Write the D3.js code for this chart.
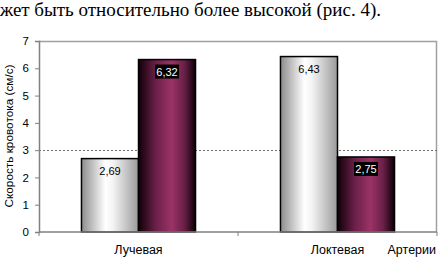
<!DOCTYPE html>
<html>
<head>
<meta charset="utf-8">
<script src="https://cdn.jsdelivr.net/npm/d3@7"></script>
<style>
  body { margin: 0; background: #fff; }
  svg { display: block; }
  .axis text { font-family: "Liberation Sans", Arial, sans-serif; font-size: 11.5px; fill: #000; }
  .axis path, .axis line { stroke: #808080; }
  .head { font-family: "Liberation Serif", "Times New Roman", serif; font-size: 19px; }
</style>
</head>
<body>
<div class="chart"></div>
<script>
var categories = ["Лучевая", "Локтевая"],
    series = ["s1", "s2"],
    values = [[2.69, 6.32], [6.43, 2.75]],
    labels = [["2,69", "6,32"], ["6,43", "2,75"]],
    yTicks = [0, 1, 2, 3, 4, 5, 6, 7],
    refLine = 3.02;

var outerWidth = 439, outerHeight = 257,
    margin = {left: 39, top: 41, right: 2, bottom: 24},
    width = outerWidth - margin.left - margin.right,
    height = outerHeight - margin.top - margin.bottom;

var svg = d3.select(".chart").append("svg")
    .attr("width", outerWidth)
    .attr("height", outerHeight);

svg.append("text")
    .attr("class", "head")
    .attr("x", 0).attr("y", 16)
    .text("жет быть относительно более высокой (рис. 4).");

var defs = svg.append("defs");
var g1 = defs.append("linearGradient").attr("id", "grayGrad");
[[0, "#8c8c8c"], [0.42, "#ffffff"], [0.55, "#f4f4f4"], [1, "#9a9a9a"]].forEach(function(s) {
  g1.append("stop").attr("offset", s[0]).attr("stop-color", s[1]);
});
var g2 = defs.append("linearGradient").attr("id", "purpleGrad");
[[0, "#100008"], [0.3, "#6a2048"], [0.58, "#9b3366"], [0.8, "#6a2048"], [1, "#0c0006"]].forEach(function(s) {
  g2.append("stop").attr("offset", s[0]).attr("stop-color", s[1]);
});
var fills = ["url(#grayGrad)", "url(#purpleGrad)"];

var g = svg.append("g").attr("transform", "translate(" + margin.left + "," + margin.top + ")");

var x0 = d3.scaleBand().domain(categories).range([0, width]);
var x1 = d3.scaleBand().domain(series).range([0, x0.bandwidth()]).paddingOuter(0.745);
var y = d3.scaleLinear().domain([0, 7]).range([height - 1, 0]);

// plot frame (top and right)
g.append("path")
    .attr("d", "M0,0.5H" + (width - 0.5) + "V" + (height - 1))
    .attr("fill", "none").attr("stroke", "#a0a0a0").attr("stroke-width", 1.5);

// reference line
g.append("line")
    .attr("x1", 0).attr("x2", width)
    .attr("y1", Math.round(y(refLine)) + 0.5).attr("y2", Math.round(y(refLine)) + 0.5)
    .attr("stroke", "#707070").attr("stroke-dasharray", "2,2");

var grp = g.selectAll(".grp").data(categories).enter().append("g")
    .attr("transform", function(d) { return "translate(" + x0(d) + ",0)"; });

function rows(d, i) { return values[i].map(function(v, j) { return {v: v, j: j, lab: labels[i][j]}; }); }

grp.selectAll("rect").data(rows)
  .enter().append("rect")
    .attr("x", function(d) { return x1(series[d.j]); })
    .attr("y", function(d) { return y(d.v); })
    .attr("width", x1.bandwidth())
    .attr("height", function(d) { return y(0) - y(d.v); })
    .attr("fill", function(d) { return fills[d.j]; })
    .attr("stroke", "#000").attr("stroke-width", 1.5);

var lab = grp.selectAll(".lab").data(rows)
  .enter().append("g").attr("class", "lab")
    .attr("transform", function(d) { return "translate(" + (x1(series[d.j]) + x1.bandwidth() / 2) + "," + (y(d.v) + 14) + ")"; });
lab.filter(function(d) { return d.j === 1; }).append("rect")
    .attr("x", -12).attr("y", -9).attr("width", 24).attr("height", 14)
    .attr("fill", "#000");
lab.append("text")
    .attr("text-anchor", "middle")
    .attr("y", 2)
    .style("font-family", "'Liberation Sans', Arial, sans-serif")
    .style("font-size", "11px")
    .attr("fill", function(d) { return d.j === 1 ? "#fff" : "#000"; })
    .text(function(d) { return d.lab; });

// axes
g.append("g").attr("class", "axis")
    .call(d3.axisLeft(y).tickValues(yTicks).tickFormat(d3.format("d")).tickSize(4).tickPadding(6))
    .call(function(a) { a.select(".domain").attr("stroke-width", 1.5); });

var xa = g.append("g").attr("class", "axis")
    .attr("transform", "translate(0," + (height - 1) + ")");
xa.append("line").attr("x1", 0).attr("x2", width).attr("stroke", "#808080").attr("stroke-width", 1.5);
xa.selectAll(".tk").data([0, 1, 2]).enter().append("line")
    .attr("x1", function(d) { return d * x0.step(); }).attr("x2", function(d) { return d * x0.step(); })
    .attr("y1", 0).attr("y2", 4).attr("stroke", "#808080");
xa.selectAll(".cl").data(categories).enter().append("text")
    .attr("x", function(d) { return x0(d) + x0.bandwidth() / 2; })
    .attr("y", 22)
    .attr("text-anchor", "middle")
    .style("font-size", "12.5px")
    .text(function(d) { return d; });
xa.append("text")
    .attr("x", width - 1).attr("y", 22)
    .attr("text-anchor", "end")
    .style("font-size", "12.5px")
    .text("Артерии");

svg.append("text")
    .attr("transform", "translate(13," + (margin.top + height / 2 - 1) + ") rotate(-90)")
    .attr("text-anchor", "middle")
    .style("font-family", "'Liberation Sans', Arial, sans-serif")
    .style("font-size", "11.8px")
    .text("Скорость кровотока (см/с)");
</script>
</body>
</html>
